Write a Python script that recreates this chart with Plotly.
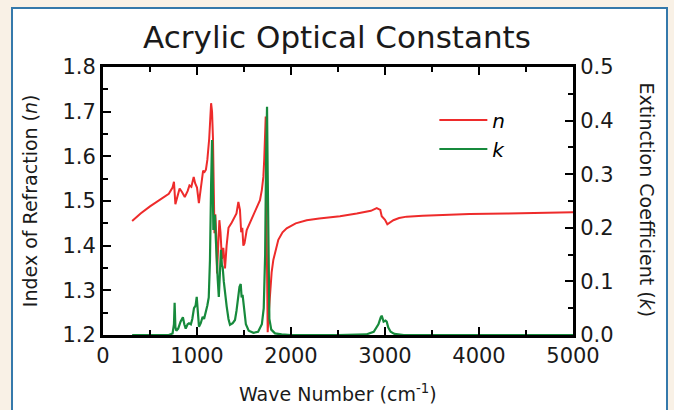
import plotly.graph_objects as go

# ---- data ----
n_wave = [310, 400, 500, 600, 700, 740, 755, 770, 790, 815, 840, 870, 900, 920, 940,
          965, 980, 1000, 1020, 1040, 1065, 1080, 1095, 1110, 1130, 1150, 1160, 1170,
          1180, 1186, 1195, 1205, 1213, 1225, 1238, 1250, 1265, 1280, 1298, 1315, 1335,
          1370, 1405, 1420, 1440, 1457, 1470, 1482, 1493, 1505, 1529, 1560, 1599, 1640,
          1670, 1690, 1706, 1715, 1723, 1731, 1740, 1748, 1752, 1760, 1777, 1794, 1812,
          1840, 1865, 1910, 1954, 2050, 2167, 2300, 2521, 2700, 2850, 2912, 2935, 2950,
          2965, 2980, 3000, 3025, 3050, 3089, 3150, 3230, 3400, 3585, 3900, 4294, 4650, 5000]
n_vals = [1.455, 1.472, 1.488, 1.502, 1.516, 1.530, 1.543, 1.493, 1.510, 1.528, 1.520,
          1.509, 1.522, 1.535, 1.532, 1.554, 1.540, 1.530, 1.495, 1.530, 1.568, 1.565,
          1.570, 1.592, 1.640, 1.719, 1.700, 1.640, 1.480, 1.428, 1.470, 1.420, 1.338,
          1.400, 1.457, 1.430, 1.370, 1.395, 1.349, 1.400, 1.440, 1.452, 1.466, 1.472,
          1.498, 1.480, 1.430, 1.440, 1.400, 1.405, 1.435, 1.450, 1.465, 1.485, 1.502,
          1.525, 1.554, 1.592, 1.640, 1.689, 1.450, 1.226, 1.206, 1.240, 1.293, 1.340,
          1.368, 1.395, 1.413, 1.430, 1.439, 1.450, 1.457, 1.461, 1.466, 1.472, 1.478,
          1.484, 1.481, 1.480, 1.466, 1.462, 1.458, 1.448, 1.452, 1.457, 1.462, 1.465,
          1.467, 1.469, 1.471, 1.472, 1.474, 1.475]

k_wave = [310, 700, 740, 755, 762, 770, 780, 800, 825, 850, 865, 880, 900, 915, 935,
          950, 968, 985, 997, 1008, 1021, 1040, 1060, 1075, 1090, 1110, 1125, 1138, 1150,
          1160, 1168, 1174, 1183, 1191, 1200, 1210, 1220, 1232, 1245, 1255, 1265, 1273,
          1285, 1300, 1316, 1335, 1351, 1380, 1404, 1420, 1440, 1452, 1465, 1475, 1485,
          1500, 1520, 1550, 1600, 1650, 1690, 1710, 1725, 1735, 1745, 1752, 1760, 1770,
          1790, 1830, 1900, 2000, 2500, 2800, 2880, 2930, 2955, 2965, 2985, 3005, 3018,
          3035, 3060, 3100, 3200, 4000, 5000]
k_vals = [0.0, 0.0, 0.003, 0.02, 0.06, 0.015, 0.008, 0.012, 0.025, 0.033, 0.02, 0.012,
          0.02, 0.022, 0.02, 0.03, 0.05, 0.055, 0.071, 0.04, 0.0155, 0.022, 0.034, 0.03,
          0.04, 0.055, 0.07, 0.14, 0.28, 0.364, 0.28, 0.196, 0.22, 0.224, 0.18, 0.13,
          0.105, 0.071, 0.12, 0.159, 0.13, 0.127, 0.1, 0.07, 0.053, 0.03, 0.019, 0.022,
          0.028, 0.045, 0.08, 0.09, 0.095, 0.07, 0.075, 0.045, 0.02, 0.008, 0.004, 0.006,
          0.02, 0.05, 0.15, 0.33, 0.426, 0.3, 0.1, 0.03, 0.01, 0.003, 0.001, 0.0, 0.0,
          0.001, 0.006, 0.02, 0.033, 0.036, 0.025, 0.027, 0.025, 0.014, 0.006, 0.002, 0.0,
          0.0, 0.0]

x_ticks = [0, 1000, 2000, 3000, 4000, 5000]
n_ticks = [1.2, 1.3, 1.4, 1.5, 1.6, 1.7, 1.8]
k_ticks = [0.0, 0.1, 0.2, 0.3, 0.4, 0.5]

FONT = "DejaVu Sans"
BG = "#f9f1e6"
RED = "#ee2b2b"
GREEN = "#178a3c"
TXT = "#1a1a1a"

fig = go.Figure()
fig.add_trace(go.Scatter(x=n_wave, y=n_vals, mode="lines", name="<i>n</i>",
                         line=dict(color=RED, width=2), yaxis="y"))
fig.add_trace(go.Scatter(x=k_wave, y=k_vals, mode="lines", name="<i>k</i>",
                         line=dict(color=GREEN, width=2.2), yaxis="y2"))

tick_font = dict(family=FONT, size=21, color=TXT)
axis_common = dict(showgrid=False, zeroline=False, showline=True, linecolor="black",
                   linewidth=3, ticks="inside", tickcolor="black", tickwidth=2,
                   ticklen=8, tickfont=tick_font, automargin=False)
minor_common = dict(ticks="inside", ticklen=5, tickwidth=2, tickcolor="black")

fig.update_layout(
    width=674, height=410,
    margin=dict(l=103, r=101, t=67, b=75),
    paper_bgcolor=BG, plot_bgcolor="white",
    showlegend=True,
    legend=dict(x=0.705, y=0.875, xanchor="left", yanchor="top", bgcolor="rgba(0,0,0,0)",
                font=dict(family=FONT, size=20, color="black"), itemwidth=48,
                tracegroupgap=0),
    title=dict(text="Acrylic Optical Constants", x=0.5, xanchor="center",
               y=0.91, yanchor="middle",
               font=dict(family=FONT, size=31, color=TXT)),
    xaxis=dict(range=[0, 5000], tickvals=x_ticks, ticktext=[str(v) for v in x_ticks],
               mirror="ticks", minor=dict(dtick=500, **minor_common), **axis_common),
    yaxis=dict(range=[1.2, 1.8], tickvals=n_ticks, ticktext=[f"{v:.1f}" for v in n_ticks],
               minor=dict(dtick=0.05, **minor_common), **axis_common),
    yaxis2=dict(range=[0, 0.5], overlaying="y", side="right",
                tickvals=k_ticks, ticktext=[f"{v:.1f}" for v in k_ticks],
                minor=dict(dtick=0.05, **minor_common), **axis_common),
    shapes=[dict(type="rect", xref="paper", yref="paper", x0=-0.1936, x1=1.2,
                 y0=-0.30, y1=1.2201, fillcolor="white",
                 line=dict(color="#3579ab", width=2), layer="below")],
    annotations=[
        dict(text="Wave Number (cm<sup>-1</sup>)", xref="paper", yref="paper",
             x=0.5, y=-0.216, showarrow=False, xanchor="center", yanchor="middle",
             font=dict(family=FONT, size=19, color=TXT)),
        dict(text="Index of Refraction (<i>n</i>)", xref="paper", yref="paper",
             x=-0.155, y=0.5, textangle=-90, showarrow=False, xanchor="center",
             yanchor="middle", font=dict(family=FONT, size=19, color=TXT)),
        dict(text="Extinction Coefficient (<i>k</i>)", xref="paper", yref="paper",
             x=1.158, y=0.505, textangle=90, showarrow=False, xanchor="center",
             yanchor="middle", font=dict(family=FONT, size=19, color=TXT)),
    ],
)

fig.write_html(
    "out.html",
    config={"displayModeBar": False},
    post_script=f"document.body.style.margin='0';document.body.style.background='{BG}';",
)
